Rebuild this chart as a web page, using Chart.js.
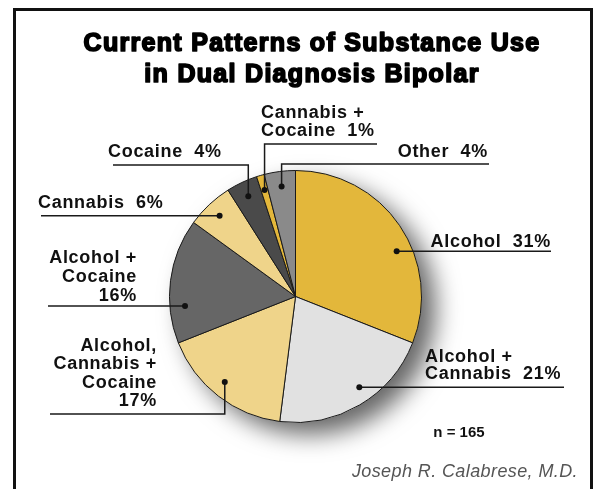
<!DOCTYPE html>
<html>
	<head>
		<meta charset="utf-8">
		<script src="https://cdn.jsdelivr.net/npm/chart.js@4/dist/chart.umd.min.js"></script>
		<title>Current Patterns of Substance Use</title>
		<style>
			html, body { margin: 0; padding: 0; background: #fff; }
			#wrap { position: relative; width: 597px; height: 489px; }
			#frame { position: absolute; left: 13px; top: 8px; width: 580px; height: 490px; border: 3px solid #111; box-sizing: border-box; }
			canvas { position: absolute; left: 0; top: 0; }
		</style>
	</head>
	<body>
		<div id="wrap">
			<div id="frame"></div>
			<canvas id="myChart" width="597" height="489"></canvas>
		</div>
		<script>
			// data
			var categories = ['Alcohol', 'Alcohol + Cannabis', 'Alcohol, Cannabis + Cocaine', 'Alcohol + Cocaine',
				'Cannabis', 'Cocaine', 'Cannabis + Cocaine', 'Other'];
			var percents = [31, 21, 17, 16, 6, 4, 1, 4];
			var labelLines = [
				['Alcohol  31%'],
				['Alcohol +', 'Cannabis  21%'],
				['Alcohol,', 'Cannabis +', 'Cocaine', '17%'],
				['Alcohol +', 'Cocaine', '16%'],
				['Cannabis  6%'],
				['Cocaine  4%'],
				['Cannabis +', 'Cocaine  1%'],
				['Other  4%']
			];
			var colors = ['#e3b73b', '#e1e1e1', '#efd48a', '#666666', '#efd48a', '#4a4a4a', '#e3b73b', '#8a8a8a'];

			// where each leader starts inside its slice (share of slice angle), and how it runs to its text
			var leaders = [
				{ at: 0.59, kind: 'h', endX: 551, textX: 551, align: 'right', gap: 4, lh: 18 },
				{ at: 0.44, kind: 'h', endX: 564, textX: 425, align: 'left', gap: 8, lh: 17.5 },
				{ at: 0.53, kind: 'v', elbowY: 414, endX: 50, textX: 157, align: 'right', gap: 8, lh: 18.5 },
				{ at: 0.29, kind: 'h', endX: 48, textX: 137, align: 'right', gap: 5, lh: 19 },
				{ at: 0.5, kind: 'h', endX: 41, textX: 38, align: 'left', gap: 8, lh: 18 },
				{ at: 0.5, kind: 'v', elbowY: 165, endX: 113, textX: 108, align: 'left', gap: 8, lh: 18 },
				{ at: 0.5, kind: 'v', elbowY: 144, endX: 377, textX: 261, align: 'left', gap: 8, lh: 18 },
				{ at: 0.5, kind: 'v', elbowY: 164, endX: 489, textX: 488, align: 'right', gap: 7, lh: 18 }
			];

			var labelFont = 'bold 18px "Liberation Sans", Arial, sans-serif';

			var shadowPlugin = {
				id: 'pieShadow',
				beforeDatasetsDraw: function (chart) {
					var arc = chart.getDatasetMeta(0).data[0];
					var ctx = chart.ctx;
					ctx.save();
					ctx.shadowColor = 'rgba(0,0,0,0.6)';
					ctx.shadowBlur = 24;
					ctx.shadowOffsetX = 14;
					ctx.shadowOffsetY = 12;
					ctx.fillStyle = '#fff';
					ctx.beginPath();
					ctx.arc(arc.x, arc.y, arc.outerRadius, 0, Math.PI * 2);
					ctx.fill();
					ctx.restore();
				}
			};

			var leaderPlugin = {
				id: 'leaders',
				afterDatasetsDraw: function (chart) {
					var ctx = chart.ctx;
					var arcs = chart.getDatasetMeta(0).data;
					ctx.save();
					ctx.strokeStyle = '#1a1a1a';
					ctx.fillStyle = '#111';
					ctx.lineWidth = 1.5;
					arcs.forEach(function (arc, i) {
						var L = leaders[i];
						var a = arc.startAngle + (arc.endAngle - arc.startAngle) * L.at;
						var r = arc.outerRadius * 0.88;
						var dx = arc.x + Math.cos(a) * r;
						var dy = arc.y + Math.sin(a) * r;
						var lineY;
						ctx.beginPath();
						ctx.moveTo(dx, dy);
						if (L.kind === 'h') {
							lineY = dy;
						} else {
							lineY = L.elbowY;
							ctx.lineTo(dx, lineY);
						}
						ctx.lineTo(L.endX, lineY);
						ctx.stroke();
						ctx.beginPath();
						ctx.arc(dx, dy, 3, 0, Math.PI * 2);
						ctx.fill();

						var lines = labelLines[i];
						ctx.font = labelFont;
						ctx.letterSpacing = '0.7px';
						ctx.textAlign = L.align;
						ctx.textBaseline = 'alphabetic';
						for (var k = 0; k < lines.length; k++) {
							var y = lineY - L.gap - (lines.length - 1 - k) * L.lh;
							ctx.fillText(lines[k], L.textX, y);
						}
					});

					ctx.letterSpacing = '0px';
					ctx.textAlign = 'center';
					ctx.font = 'bold 15px "Liberation Sans", Arial, sans-serif';
					ctx.fillText('n = 165', 459, 437);

					ctx.textAlign = 'right';
					ctx.fillStyle = '#555';
					ctx.letterSpacing = '0.4px';
					ctx.font = 'italic 18px "Liberation Sans", Arial, sans-serif';
					ctx.fillText('Joseph R. Calabrese, M.D.', 578, 477);

					// heavy title
					ctx.fillStyle = '#000';
					ctx.strokeStyle = '#000';
					ctx.lineWidth = 1.7;
					ctx.lineJoin = 'round';
					ctx.textAlign = 'center';
					ctx.letterSpacing = '1.3px';
					ctx.font = 'bold 25px "Liberation Sans", Arial, sans-serif';
					var titles = ['Current Patterns of Substance Use', 'in Dual Diagnosis Bipolar'];
					[51, 82].forEach(function (y, k) {
						ctx.fillText(titles[k], 312, y);
						ctx.strokeText(titles[k], 312, y);
					});
					ctx.restore();
				}
			};

			var chart = new Chart(document.getElementById('myChart'), {
				type: 'pie',
				data: {
					labels: categories,
					datasets: [{
						data: percents,
						backgroundColor: colors,
						borderColor: '#1a1a1a',
						borderWidth: 1
					}]
				},
				options: {
					responsive: false,
					animation: false,
					layout: { padding: { left: 169, right: 175, top: 170, bottom: 66 } },
					plugins: {
						legend: { display: false },
						tooltip: { enabled: false }
					}
				},
				plugins: [shadowPlugin, leaderPlugin]
			});
		</script>
	</body>
</html>
